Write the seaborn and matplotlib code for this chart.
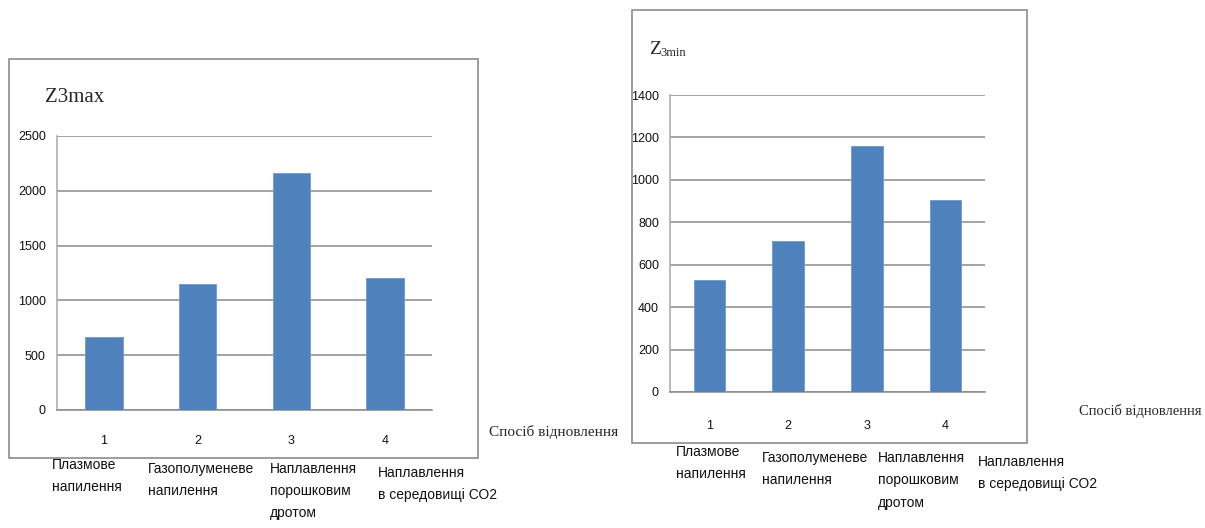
import numpy as np
import pandas as pd
import seaborn as sns
import matplotlib.pyplot as plt
from matplotlib.patches import Rectangle

# data
methods = ['1', '2', '3', '4']
z3max = [670, 1150, 2160, 1200]
z3min = [530, 710, 1160, 905]
method_names = ['Плазмове\nнапилення',
                'Газополуменеве\nнапилення',
                'Наплавлення\nпорошковим\nдротом',
                'Наплавлення\nв середовищі СО2']
max_ticks = [0, 500, 1000, 1500, 2000, 2500]
min_ticks = [0, 200, 400, 600, 800, 1000, 1200, 1400]
xlabel = 'Спосіб відновлення'

W, H = 1205, 528
BAR = '#4F81BD'
GRID = '#8a8a8a'

sns.set_style('white')
plt.rcParams['font.family'] = ['Liberation Sans', 'DejaVu Sans']

fig = plt.figure(figsize=(W / 100, H / 100), dpi=100)


def px(x, y):
    return x / W, 1 - y / H


def frame(x0, y0, x1, y1):
    fig.patches.append(Rectangle(px(x0, y1), (x1 - x0) / W, (y1 - y0) / H,
                                 transform=fig.transFigure, fill=False,
                                 edgecolor='#8c8c8c', linewidth=1.2))


def bar_chart(rect, vals, ticks, pad):
    ax = fig.add_axes(rect)
    df = pd.DataFrame({'m': methods, 'v': vals})
    sns.barplot(data=df, x='m', y='v', color=BAR, width=0.4, saturation=1,
                edgecolor='#6f9ad0', linewidth=0.6, ax=ax, zorder=3)
    ax.set_xlim(-0.5, 3.5)
    ax.set_ylim(0, ticks[-1])
    ax.set_yticks(ticks)
    ax.yaxis.grid(True, color=GRID, linewidth=1.1, zorder=0)
    ax.set_axisbelow(True)
    for s in ['top', 'right']:
        ax.spines[s].set_visible(False)
    ax.spines['left'].set_color('#a8a8a8')
    ax.spines['bottom'].set_color(GRID)
    ax.spines['left'].set_linewidth(1.1)
    ax.spines['bottom'].set_linewidth(1.1)
    ax.set_xticks(np.arange(-0.5, 4, 1), minor=True)
    ax.tick_params(axis='x', which='major', length=0, pad=pad, labelsize=9,
                   labelcolor='#111111')
    ax.tick_params(axis='x', which='minor', length=6, color=GRID, direction='out')
    ax.tick_params(axis='y', length=5, color=GRID, direction='out', labelsize=9,
                   pad=3, labelcolor='#111111')
    ax.set_xlabel('')
    ax.set_ylabel('')
    return ax


# left chart: Z3max
frame(9, 59, 478, 458)
bar_chart([57 / W, 1 - 410 / H, 375 / W, 274 / H], z3max, max_ticks, 18)
fig.text(*px(45, 97), 'Z3max', family='Liberation Serif', fontsize=15, va='center', ha='left')
fig.text(*px(489, 432), xlabel, family='Liberation Serif', fontsize=11, va='center', ha='left')
left_pos = [(52, 458), (148, 462), (270, 462), (378, 466)]
for (x, y), name in zip(left_pos, method_names):
    fig.text(*px(x, y), name, fontsize=10, va='top', ha='left', linespacing=1.75,
             color='#111111')

# right chart: Z3min
frame(632, 10, 1027, 443)
bar_chart([670 / W, 1 - 392 / H, 315 / W, 297 / H], z3min, min_ticks, 20)
fig.text(*px(649, 50), 'Z', family='Liberation Serif', fontsize=14, va='center', ha='left')
fig.text(*px(660, 53), '3min', family='Liberation Serif', fontsize=9, va='center', ha='left')
fig.text(*px(1079, 411), xlabel, family='Liberation Serif', fontsize=10.5, va='center', ha='left')
right_pos = [(676, 445), (762, 451), (878, 451), (978, 455)]
for (x, y), name in zip(right_pos, method_names):
    fig.text(*px(x, y), name, fontsize=10, va='top', ha='left', linespacing=1.75,
             color='#111111')

fig.savefig('out.png', dpi=100)
